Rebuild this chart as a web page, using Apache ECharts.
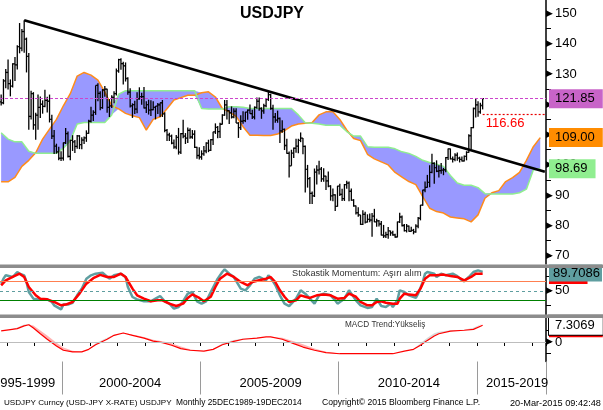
<!DOCTYPE html>
<html><head><meta charset="utf-8">
<script src="https://cdn.jsdelivr.net/npm/echarts@6/dist/echarts.min.js"></script>
<style>html,body{margin:0;padding:0;background:#fff}#c{width:603px;height:410px}</style>
</head><body><div id="c"></div>
<script>
// ---------- DATA ----------
const START_YEAR = 1997, START_MONTH = 10, N_CAT = 237;
const months = [];
for (let i = 0; i < N_CAT; i++) {
  const t = (START_MONTH - 1) + i;
  months.push((START_YEAR + Math.floor(t / 12)) + '-' + String(t % 12 + 1).padStart(2, '0'));
}
// monthly [open, high, low, close] from 1997-10 to 2015-03
const ohlc = [
[120.8,123.2,119.6,120.5],[120.5,128.3,120.0,127.7],[127.7,131.6,125.3,130.5],
[130.5,134.8,124.9,126.8],[126.8,128.2,122.6,126.0],[126.0,133.5,125.5,133.3],[133.3,135.6,127.7,133.0],[133.0,139.5,131.5,139.0],[139.0,146.8,136.8,138.5],[138.5,144.8,137.5,144.0],[144.0,147.7,137.0,141.5],[141.5,142.0,130.5,135.8],[135.8,136.9,111.6,116.0],[116.0,124.5,115.0,123.5],[123.5,124.0,111.6,113.2],
[113.2,117.2,108.3,116.4],[116.4,123.2,111.6,119.0],[119.0,122.6,115.5,120.0],[120.0,121.3,116.9,119.3],[119.3,124.8,119.0,121.3],[121.3,122.5,117.3,121.0],[121.0,123.2,114.0,115.0],[115.0,116.5,108.5,109.5],[109.5,111.5,103.6,106.2],[106.2,107.0,103.7,104.3],[104.3,106.0,101.5,102.2],[102.2,104.5,101.3,102.2],
[102.2,107.4,101.4,107.3],[107.3,112.2,106.9,110.3],[110.3,111.0,102.4,102.8],[102.8,108.3,101.5,108.1],[108.1,109.8,104.6,107.6],[107.6,108.2,103.9,106.1],[106.1,109.9,105.3,109.6],[109.6,109.8,105.2,106.7],[106.7,109.1,105.2,108.2],[108.2,109.4,106.9,108.9],[108.9,111.4,107.6,110.4],[110.4,114.9,110.3,114.4],
[114.4,119.2,114.0,116.4],[116.4,118.0,114.5,117.3],[117.3,126.2,116.5,126.2],[126.2,126.9,121.0,123.6],[123.6,124.3,118.0,118.9],[118.9,125.0,118.5,124.7],[124.7,126.0,122.5,125.0],[125.0,125.1,117.2,119.0],[119.0,121.7,115.8,119.5],[119.5,123.0,118.8,122.3],[122.3,124.3,120.3,123.5],[123.5,131.8,122.9,131.0],
[131.0,135.0,130.4,134.7],[134.7,135.2,131.4,133.4],[133.4,134.0,126.5,132.7],[132.7,133.8,127.5,128.5],[128.5,128.9,123.1,124.0],[124.0,125.3,118.9,119.5],[119.5,120.3,115.5,119.9],[119.9,121.2,116.8,118.4],[118.4,124.0,117.0,121.8],[121.8,125.6,121.5,122.5],[122.5,123.8,119.8,122.5],[122.5,125.7,118.6,118.8],
[118.8,121.0,117.1,119.9],[119.9,121.5,116.6,118.1],[118.1,121.3,116.1,118.2],[118.2,121.0,118.0,119.0],[119.0,119.4,115.0,119.4],[119.4,120.4,116.8,119.8],[119.8,120.5,115.8,120.5],[120.5,121.4,115.8,116.8],[116.8,117.4,110.8,111.4],[111.4,111.8,107.9,109.9],[109.9,110.6,107.9,109.5],[109.5,110.0,106.8,107.2],
[107.2,108.4,105.3,105.9],[105.9,109.9,105.2,109.1],[109.1,112.2,103.4,104.2],[104.2,110.5,103.6,110.3],[110.3,114.9,108.8,109.5],[109.5,110.5,106.9,108.8],[108.8,112.3,107.2,111.4],[111.4,112.1,108.6,109.2],[109.2,111.5,108.6,110.1],[110.1,111.4,105.6,105.8],[105.8,106.0,102.0,103.1],[103.1,105.8,101.8,102.6],
[102.6,104.8,101.7,103.6],[103.6,106.2,103.0,104.6],[104.6,107.5,103.8,107.2],[107.2,108.3,104.2,104.8],[104.8,108.5,104.6,108.3],[108.3,110.9,106.6,110.9],[110.9,113.7,110.2,112.4],[112.4,112.8,108.8,111.0],[111.0,113.9,108.9,113.4],[113.4,116.7,113.3,116.4],[116.4,121.4,116.2,119.8],[119.8,121.4,115.0,117.9],
[117.9,118.0,113.5,117.2],[117.2,119.3,115.3,115.8],[115.8,118.7,115.4,117.7],[117.7,118.7,113.8,113.8],[113.8,114.1,108.9,112.3],[112.3,116.4,111.5,114.4],[114.4,117.7,113.6,114.6],[114.6,117.5,114.1,117.4],[117.4,118.3,114.9,118.1],[118.1,119.9,116.9,116.9],[116.9,118.2,115.1,115.8],[115.8,119.3,115.0,119.0],
[119.0,122.2,118.5,121.0],[121.0,122.2,117.9,118.6],[118.6,119.0,115.2,117.8],[117.8,120.2,116.9,119.5],[119.5,122.0,119.0,121.7],[121.7,124.1,121.1,123.2],[123.2,123.5,118.2,118.6],[118.6,119.8,111.6,115.8],[115.8,117.1,113.9,114.8],[114.8,117.9,113.9,115.3],[115.3,115.6,107.2,111.2],[111.2,114.7,110.6,111.7],
[111.7,112.0,104.9,106.4],[106.4,108.6,103.7,103.8],[103.8,104.4,95.8,99.7],[99.7,105.0,99.7,103.9],[103.9,105.7,102.3,105.5],[105.5,108.6,104.0,106.2],[106.2,108.6,103.8,108.1],[108.1,110.7,107.5,108.8],[108.8,108.9,103.5,106.1],[106.1,106.4,90.9,98.5],[98.5,100.0,92.5,95.5],[95.5,96.0,87.1,90.6],
[90.6,91.2,87.1,89.8],[89.8,98.8,89.4,97.6],[97.6,99.9,93.5,98.3],[98.3,101.4,96.8,98.6],[98.6,99.3,94.4,95.4],[95.4,98.9,94.4,96.3],[96.3,96.4,91.7,94.7],[94.7,97.8,92.6,93.0],[93.0,93.3,88.2,89.8],[89.8,92.2,88.0,90.1],[90.1,90.3,84.8,86.3],[86.3,93.1,86.2,93.0],
[93.0,93.8,89.7,90.3],[90.3,92.1,88.1,88.9],[88.9,93.7,88.1,93.5],[93.5,94.8,92.1,94.0],[94.0,94.5,88.0,91.3],[91.3,92.2,88.2,88.4],[88.4,88.7,86.2,86.5],[86.5,86.6,83.6,84.2],[84.2,86.0,82.9,83.5],[83.5,83.5,80.2,80.4],[80.4,85.0,80.2,83.7],[83.7,84.5,80.7,81.1],
[81.1,83.7,81.0,82.0],[82.0,84.0,81.1,81.8],[81.8,84.1,76.3,83.1],[83.1,85.5,81.1,81.2],[81.2,82.2,79.6,81.5],[81.5,81.8,79.7,80.5],[80.5,81.5,76.7,76.8],[76.8,80.2,75.9,76.6],[76.6,77.9,75.9,77.0],[77.0,79.5,75.6,78.2],[78.2,78.3,76.6,77.6],[77.6,78.3,76.6,76.9],
[76.9,77.3,76.0,76.2],[76.2,81.3,76.1,81.2],[81.2,84.2,80.8,82.8],[82.8,83.3,79.7,80.0],[80.0,80.5,78.0,78.3],[78.3,80.5,77.7,79.8],[79.8,80.0,77.9,78.1],[78.1,79.6,77.9,78.4],[78.4,78.9,77.1,77.9],[77.9,80.4,77.6,79.8],[79.8,82.8,79.1,82.4],[82.4,86.8,81.7,86.7],
[86.7,91.8,86.5,91.7],[91.7,94.5,91.0,92.6],[92.6,96.7,92.5,94.2],[94.2,99.9,92.6,97.5],[97.5,103.7,97.2,100.5],[100.5,100.9,93.8,99.1],[99.1,101.5,97.6,97.9],[97.9,99.9,95.8,98.1],[98.1,100.6,97.1,98.3],[98.3,99.0,96.6,98.4],[98.4,102.6,97.6,102.4],[102.4,105.4,101.6,105.3],
[105.3,105.4,101.8,102.0],[102.0,102.8,100.8,101.8],[101.8,103.8,101.2,103.2],[103.2,104.1,101.4,102.2],[102.2,102.7,100.8,101.8],[101.8,102.8,101.1,101.3],[101.3,103.1,101.1,102.8],[102.8,104.5,101.5,104.1],[104.1,110.1,104.0,109.6],[109.6,112.5,105.2,112.3],[112.3,118.9,112.1,118.6],[118.6,121.9,115.6,119.8],
[119.8,121.0,115.9,117.5],[117.5,120.5,116.9,119.6],[119.6,122.0,118.3,121.85]
];
// Ichimoku cloud (month index, Senkou A = orange, Senkou B = green)
const cloudIdx = [0,3,6,9,12,15,18,21,24,27,30,33,36,39,42,45,48,51,54,57,60,63,66,69,72,75,78,81,84,87,90,93,96,99,102,105,108,111,114,117,120,123,126,129,132,135,138,141,144,147,150,153,156,159,162,165,168,171,174,177,180,183,186,189,192,195,198,201,204,207,210,213,216,219,222,225,228,231,234];
const spanA = [94.4,94.4,95.9,99.5,101.5,104.0,108.5,111.8,115.0,119.5,123.5,129.3,130.5,129.6,128.0,124.0,119.5,118.5,117.0,116.2,115.6,111.5,115.0,115.9,118.5,121.4,122.2,123.0,123.0,123.8,124.1,122.4,118.6,117.5,116.0,112.6,109.8,109.8,109.7,109.7,110.2,111.3,112.8,113.5,113.7,114.0,116.5,117.5,117.5,115.0,111.5,108.7,108.0,103.5,102.0,101.0,100.0,97.5,96.0,94.5,93.5,89.5,85.7,84.6,84.1,82.8,82.5,82.2,81.2,83.5,89.0,90.8,91.5,94.5,95.8,97.5,101.5,106.0,109.0];
const spanB = [110.6,108.5,107.6,107.6,104.5,103.8,103.8,103.8,103.8,105.5,108.0,113.5,114.0,114.0,114.0,114.0,116.5,123.3,124.5,124.5,124.5,124.5,124.5,124.5,124.5,124.5,124.5,124.5,124.5,118.6,118.4,118.4,118.4,119.2,119.2,119.0,118.6,118.6,118.6,118.6,118.6,118.6,118.6,116.5,113.9,113.7,113.5,113.1,113.1,113.1,111.0,109.5,109.5,106.0,105.8,105.8,105.8,105.3,104.3,103.8,102.8,101.5,100.8,100.2,99.5,96.5,94.0,93.3,93.3,92.5,90.5,90.4,90.4,90.4,90.4,90.8,92.0,98.3,98.69];
const trendIdx = [10, 236];
const trendVal = [147.7, 97.7];
const lastPrice = 121.85, supportLevel = 116.66, spanALast = 109.00, spanBLast = 98.69;
// Stochastic (month index, value)
const stochK = [[0,65],[1,75.5],[2,82.5],[5,79],[7,89.5],[8,86],[10,82.5],[11,68.5],[12,47.5],[14,33.5],[16,32],[18,32],[20,32],[22,26.5],[23,19.5],[26,11],[27,21],[29,21],[31,24.5],[33,40.5],[35,54.5],[37,75.5],[39,82.5],[41,86],[44,88],[47,75.5],[49,82.5],[52,86],[54,79],[55,58],[57,37],[59,32],[62,28],[65,28],[67,33.5],[69,39],[71,28],[73,23],[75,12.5],[77,16],[79,28],[81,44],[83,47.5],[85,28],[87,23],[89,28],[91,47.5],[94,75.5],[96,89.5],[97,95],[99,86],[101,79],[104,54.5],[106,51],[108,61.5],[110,75.5],[112,79],[115,72],[116,82.5],[118,70],[119,62],[121,40.5],[123,23],[125,18],[128,33.5],[130,51],[132,44],[134,33.5],[136,23],[138,40.5],[140,44],[143,40.5],[145,30],[146,23],[149,33.5],[151,51],[152,44],[154,30],[156,19.5],[159,14],[161,16],[163,33.5],[165,18],[167,16],[169,23],[170,16],[172,30],[173,51],[175,47.5],[177,40.5],[180,35],[181,44],[183,68.5],[184,86],[185,89.5],[188,86],[189,79],[191,86],[193,82.5],[196,86],[198,81],[200,72],[201,70],[203,79],[205,89.5],[207,93],[209,89.7]];
const stochD = [[0,61.5],[2,72],[5,79],[8,86],[10,79],[12,58],[15,40.5],[17,33.5],[20,32],[23,26.5],[26,19.5],[28,21],[31,26.5],[34,44],[37,65],[40,76.5],[43,83.5],[46,79],[49,79],[52,86],[54,79],[57,54.5],[59,40.5],[62,33.5],[65,28],[68,30],[70,30],[73,23],[76,18],[79,23],[81,35],[83,42.5],[86,35],[88,28],[91,37.5],[93,58],[95,75.5],[98,86],[101,79],[104,68.5],[107,61.5],[109,68.5],[112,72],[115,75.5],[117,79],[119,68.5],[121,51],[123,37.5],[125,26.5],[128,30],[130,40.5],[132,37.5],[134,35],[137,40.5],[140,42],[143,40.5],[146,33.5],[149,35],[151,44],[154,37.5],[156,26.5],[159,19.5],[161,19.5],[163,26.5],[165,28],[167,25],[170,23],[172,23],[173,33.5],[175,44],[177,42],[180,40.5],[182,54.5],[184,75.5],[186,82.5],[189,82.5],[192,84],[195,81],[198,79],[201,72],[204,79],[206,86],[209,86]];
const stochKText = '89.7086', stochKLabelAt = 87.4, stochDLabelAt = 82.1;
// MACD (month index, MACD, signal)
const macdIdx = [0,4,7,10,12,14,17,20,24,27,31,35,38,41,46,49,53,57,62,66,70,74,78,82,88,92,96,101,105,111,115,117,122,127,131,136,141,147,153,159,164,170,175,179,182,185,188,190,195,201,205,209];
const macdVal = [4.8,5.4,5.8,7.0,7.5,6.1,3.6,1.2,-1.7,-3.6,-4.3,-4.3,-3.2,-1.2,1.2,2.9,3.9,2.9,1.7,0.4,-0.3,-1.4,-2.9,-3.6,-4.0,-3.2,-1.2,0.3,1.2,1.7,2.2,2.2,1.2,-0.7,-2.2,-3.6,-4.6,-5.1,-5.1,-5.1,-5.1,-5.1,-4.0,-3.2,-1.4,0.7,2.6,3.6,4.7,5.1,5.5,7.3];
const macdSig = [4.8,5.4,6.3,7.6,7.7,7.2,5.0,2.8,-0.3,-2.4,-3.8,-4.2,-3.2,-0.6,1.8,3.2,4.0,3.3,2.2,1.0,0.3,-0.6,-2.0,-3.2,-4.0,-3.2,-0.6,0.9,1.5,1.8,2.2,2.3,1.8,0.3,-1.0,-2.8,-4.2,-5.0,-5.1,-5.1,-5.1,-5.1,-4.0,-3.0,-0.6,1.8,3.8,4.5,5.1,5.3,6.2,8.0];
const macdLast = 7.3069, macdSigLabelAt = 6.2;
// axis labels
const periodLabels = {10:'1995-1999', 56:'2000-2004', 117:'2005-2009', 177:'2010-2014', 224:'2015-2019'};
const separatorMonths = ['2000-01','2005-01','2010-01','2015-01'];
const priceTicks = [70,80,90,100,110,120,130,140,150];
const priceMinorTicks = [70,75,80,85,90,95,100,105,110,115,120,125,130,135,140,145,150];

// ---------- CHART ----------
const FONT = "'Liberation Sans', Arial, sans-serif";
const chart = echarts.init(document.getElementById('c'), null, {renderer:'canvas'});
const hidden = {color:'rgba(0,0,0,0)', width:1};
function boxLabel(text, bg, extra) {
  return Object.assign({show:true, position:'end', distance:3, formatter:text, color:'#000',
    backgroundColor:bg, fontSize:13, fontFamily:FONT, padding:[3,8,2,6], lineHeight:14}, extra||{});
}
const tri = {t:{fontSize:9, fontFamily:'DejaVu Sans', color:'#000', padding:[0,2,0,0]}, n:{fontSize:13, fontFamily:FONT, color:'#000'}};
const falling = macdVal.map((v,k)=> k===0 ? false : v < macdVal[k-1]);
const gridBase = {left:0, width:546, containLabel:false, outerBoundsMode:'none'};

const option = {
  animation:false,
  backgroundColor:'#fff',
  grid:[
    Object.assign({top:0, height:264}, gridBase),
    Object.assign({top:267, height:47.6}, gridBase),
    Object.assign({top:318, height:43.5}, gridBase)
  ],
  xAxis:[
    {type:'category', gridIndex:0, data:months, show:false},
    {type:'category', gridIndex:1, data:months, show:false},
    {type:'category', gridIndex:2, data:months,
      axisLine:{show:true, lineStyle:{color:'#000', width:1}},
      axisTick:{show:true, interval:(i,v)=>String(v).endsWith('-01'), length:4, lineStyle:{color:'#000'}},
      axisLabel:{interval:(i)=>periodLabels[i]!==undefined, formatter:(v,i)=>periodLabels[i]||'', margin:15, fontSize:13, color:'#000', fontFamily:FONT, hideOverlap:false},
      splitLine:{show:false}},
    {type:'category', gridIndex:2, data:months, position:'bottom',
      axisLine:{show:false},
      axisTick:{show:true, interval:(i,v)=>separatorMonths.indexOf(v)>=0, length:33, lineStyle:{color:'#9a9a9a', width:1}},
      axisLabel:{show:false}, splitLine:{show:false}}
  ],
  yAxis:[
    {type:'value', gridIndex:0, position:'right', min:67.3, max:154.4, splitLine:{show:false},
      axisLine:{show:true, lineStyle:{color:'#000', width:1.5}},
      axisTick:{show:true, customValues:priceMinorTicks, length:5, lineStyle:{color:'#000'}},
      axisLabel:{customValues:priceTicks, margin:0, formatter:v=>'{t|\u25B6}{n|'+v+'}', rich:tri}},
    {type:'value', gridIndex:1, position:'right', min:0, max:100, splitLine:{show:false},
      axisLine:{show:true, lineStyle:{color:'#000', width:1.5}},
      axisTick:{show:true, customValues:[20,50,80], length:5, lineStyle:{color:'#000'}},
      axisLabel:{customValues:[50], margin:0, formatter:v=>'{t|\u25B6}{n|'+v+'}', rich:tri}},
    {type:'value', gridIndex:2, position:'right', min:-8.48, max:10.43, splitLine:{show:false},
      axisLine:{show:true, lineStyle:{color:'#000', width:1.5}},
      axisTick:{show:true, customValues:[-5,0,5], length:5, lineStyle:{color:'#000'}},
      axisLabel:{customValues:[0], margin:0, formatter:v=>'{t|\u25B6}{n|'+v+'}', rich:tri}}
  ],
  series:[
    {type:'line', xAxisIndex:0, yAxisIndex:0, stack:'cloud', stackStrategy:'all', symbol:'none', silent:true, z:1,
      data:cloudIdx.map((x,k)=>[x, Math.min(spanA[k], spanB[k])]), lineStyle:{opacity:0}},
    {type:'line', xAxisIndex:0, yAxisIndex:0, stack:'cloud', stackStrategy:'all', symbol:'none', silent:true, z:1,
      data:cloudIdx.map((x,k)=>[x, Math.abs(spanA[k]-spanB[k])]), lineStyle:{opacity:0}, areaStyle:{color:'#9999ff', opacity:1}},
    {type:'line', xAxisIndex:0, yAxisIndex:0, symbol:'none', z:2, data:cloudIdx.map((x,k)=>[x, spanA[k]]),
      lineStyle:{color:'#ff8c1a', width:1.5},
      markLine:{symbol:'none', silent:true, data:[{yAxis:spanALast, lineStyle:hidden, label:boxLabel('109.00','#ff8c00')}]}},
    {type:'line', xAxisIndex:0, yAxisIndex:0, symbol:'none', z:2, data:cloudIdx.map((x,k)=>[x, spanB[k]]),
      lineStyle:{color:'#90ee90', width:1.5},
      markLine:{symbol:'none', silent:true, data:[{yAxis:spanBLast, lineStyle:hidden, label:boxLabel('98.69','#90ee90')}]}},
    {type:'custom', xAxisIndex:0, yAxisIndex:0, z:3, silent:true,
      data:ohlc.map((r,i)=>[i, r[0], r[1], r[2], r[3]]),
      encode:{x:0, y:[1,2,3,4]},
      renderItem:function(params, api){
        const i = api.value(0);
        const o = api.coord([i, api.value(1)]);
        const h = api.coord([i, api.value(2)]);
        const l = api.coord([i, api.value(3)]);
        const c = api.coord([i, api.value(4)]);
        const w = api.size([1,0])[0]*0.55;
        const st = {stroke:'#000', lineWidth:1.3};
        return {type:'group', children:[
          {type:'line', shape:{x1:h[0], y1:h[1], x2:l[0], y2:l[1]}, style:st},
          {type:'line', shape:{x1:o[0]-w, y1:o[1], x2:o[0], y2:o[1]}, style:st},
          {type:'line', shape:{x1:c[0], y1:c[1], x2:c[0]+w, y2:c[1]}, style:st}
        ]};
      }},
    {type:'line', xAxisIndex:0, yAxisIndex:0, symbol:'none', z:4,
      data:trendIdx.map((x,k)=>[x, trendVal[k]]), lineStyle:{color:'#000', width:2.6},
      markLine:{symbol:'none', silent:true, data:[
        {yAxis:lastPrice, lineStyle:{color:'#cc44cc', type:[3,2], width:1}, label:boxLabel('121.85','#c864c8')},
        [{coord:[209, supportLevel], lineStyle:{color:'#e80000', type:[2,2], width:1.2},
          label:{show:true, position:'insideStartBottom', formatter:'116.66', color:'#ff0000', fontSize:13, fontFamily:FONT, distance:3}},
         {coord:[236, supportLevel]}]
      ]}},
    {type:'line', xAxisIndex:1, yAxisIndex:1, symbol:'none', z:2, data:stochK,
      lineStyle:{color:'#5f9ea0', width:2.5},
      markLine:{symbol:'none', silent:true, label:{show:false}, data:[
        {yAxis:70, lineStyle:{color:'#ff7f50', width:1, type:'solid'}},
        {yAxis:30, lineStyle:{color:'#008000', width:1, type:'solid'}},
        {yAxis:50, lineStyle:{color:'#5f9ea0', width:1, type:[3,3]}},
        {yAxis:stochDLabelAt, lineStyle:hidden, label:boxLabel('86.00','#ff0000', {padding:[2,2,1,4]})}
      ]}},
    {type:'line', xAxisIndex:1, yAxisIndex:1, symbol:'none', z:3, data:stochD,
      lineStyle:{color:'#ff0000', width:2.5},
      markLine:{symbol:'none', silent:true, data:[
        {yAxis:stochKLabelAt, lineStyle:hidden, label:boxLabel(stochKText,'#5f9ea0', {padding:[2,2,1,4]})}
      ]}},
    {type:'line', xAxisIndex:2, yAxisIndex:2, stack:'m', stackStrategy:'all', symbol:'none', silent:true, z:1,
      data:macdIdx.map((x,k)=>[x, macdVal[k]]), lineStyle:{opacity:0},
      markLine:{symbol:'none', silent:true, data:[
        {yAxis:0, lineStyle:{color:'#bdbdbd', width:1, type:'solid'}, label:{show:false}},
        {yAxis:macdSigLabelAt, lineStyle:hidden, label:boxLabel('7.3069','#ff0000')}
      ]}},
    {type:'line', xAxisIndex:2, yAxisIndex:2, stack:'m', stackStrategy:'all', symbol:'none', silent:true, z:1,
      data:macdIdx.map((x,k)=>[x, falling[k] ? macdSig[k]-macdVal[k] : 0]), lineStyle:{opacity:0}, areaStyle:{color:'#ffb3b3', opacity:1}},
    {type:'line', xAxisIndex:2, yAxisIndex:2, stack:'m', stackStrategy:'all', symbol:'none', silent:true, z:1,
      data:macdIdx.map((x,k)=>[x, falling[k] ? 0 : macdSig[k]-macdVal[k]]), lineStyle:{opacity:0}, areaStyle:{color:'#dadada', opacity:1}},
    {type:'line', xAxisIndex:2, yAxisIndex:2, symbol:'none', z:3,
      data:macdIdx.map((x,k)=>[x, macdVal[k]]), lineStyle:{color:'#ff0000', width:1.2},
      markLine:{symbol:'none', silent:true, data:[
        {yAxis:macdLast, lineStyle:hidden, label:boxLabel('7.3069','#ffffff', {borderColor:'#000', borderWidth:1})}
      ]}}
  ],
  graphic:[
    {type:'rect', z:100, shape:{x:0, y:264.5, width:603, height:3.5}, style:{fill:'#8c8c8c'}},
    {type:'rect', z:100, shape:{x:0, y:314.6, width:603, height:3.4}, style:{fill:'#8c8c8c'}},
    {type:'text', z:100, x:272, y:14, style:{text:'USDJPY', font:"bold 16px 'Liberation Sans', Arial", fill:'#000', align:'center', verticalAlign:'middle'}},
    {type:'text', z:100, x:292, y:273.5, style:{text:'Stokastik Momentum: Aşırı alım', font:"9.2px 'Liberation Sans', Arial", fill:'#333', align:'left', verticalAlign:'middle'}},
    {type:'text', z:100, x:345, y:325, style:{text:'MACD Trend:Yükseliş', font:"8.2px 'Liberation Sans', Arial", fill:'#333', align:'left', verticalAlign:'middle'}},
    {type:'text', z:100, x:4, y:403, style:{text:'USDJPY Curncy (USD-JPY X-RATE) USDJPY', font:"8.1px 'Liberation Sans', Arial", fill:'#000', align:'left', verticalAlign:'middle'}},
    {type:'text', z:100, x:176, y:403, style:{text:'Monthly 25DEC1989-19DEC2014', font:"8.4px 'Liberation Sans', Arial", fill:'#000', align:'left', verticalAlign:'middle'}},
    {type:'text', z:100, x:322, y:403, style:{text:'Copyright© 2015 Bloomberg Finance L.P.', font:"8.6px 'Liberation Sans', Arial", fill:'#000', align:'left', verticalAlign:'middle'}},
    {type:'text', z:100, x:510, y:403, style:{text:'20-Mar-2015 09:42:48', font:"9.2px 'Liberation Sans', Arial", fill:'#000', align:'left', verticalAlign:'middle'}}
  ]
};
chart.setOption(option);
</script></body></html>
